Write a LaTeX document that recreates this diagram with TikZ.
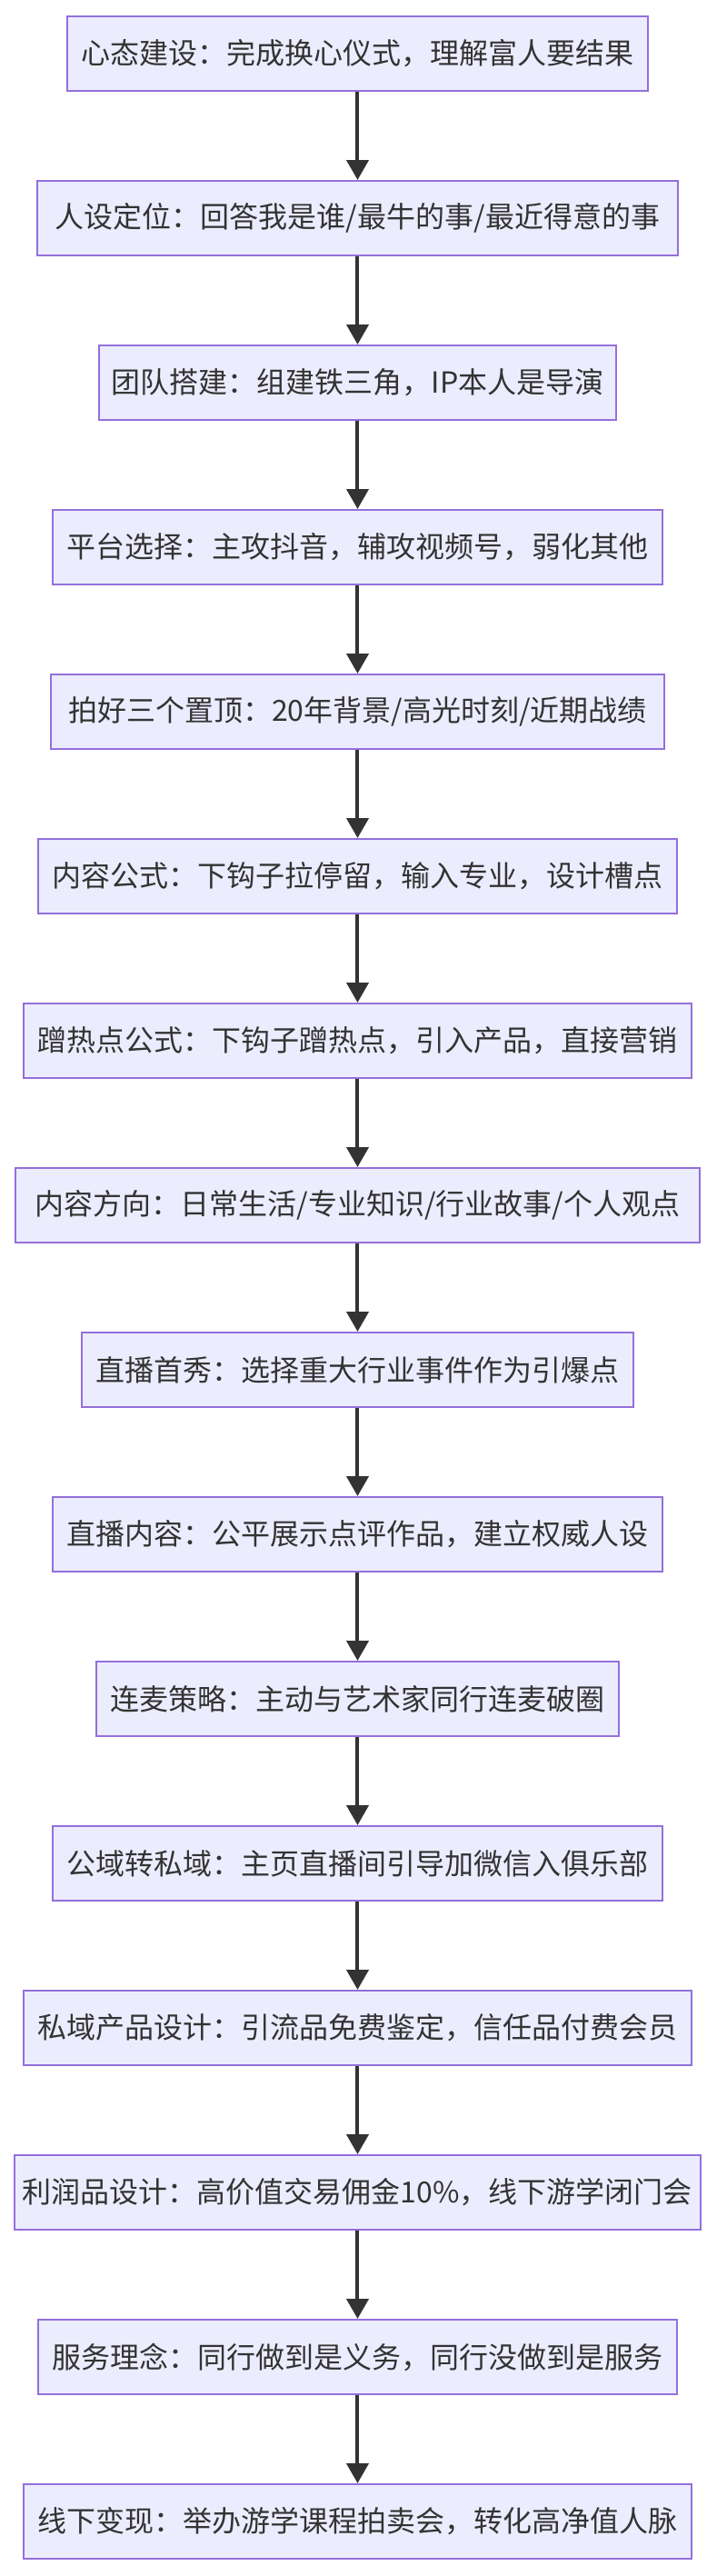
\documentclass[tikz,border=0pt]{standalone}
\usepackage{xcolor}
\usepackage{fontspec}
\setmainfont{Noto Sans CJK SC}
\usepackage{tikz}
\usetikzlibrary{
  positioning,
  arrows.meta
}
\definecolor{stepbg}{HTML}{ECECFF}
\definecolor{stepborder}{HTML}{9370DB}
\definecolor{steptext}{HTML}{333333}
\definecolor{arrowcolor}{HTML}{333333}
\tikzset{
  stepbox/.style={
    draw=stepborder, fill=stepbg, line width=1pt,
    minimum height=41pt, inner xsep=2pt,
    font=\fontsize{16}{19}\selectfont, text=steptext, align=center
  },
  flowarrow/.style={
    -{Triangle[length=11pt, width=12pt]}, line width=2pt, draw=arrowcolor
  }
}

\begin{document}
\begin{tikzpicture}[node distance=48.5pt]
        \path[use as bounding box] (-196.75pt,29.5pt) rectangle (197.25pt,-1387.5pt);
        % onboarding and positioning
        \node[stepbox, minimum width=319.5pt] (mindset) {心态建设：完成换心仪式，理解富人要结果};
        \node[stepbox, minimum width=352.5pt, below=of mindset] (persona) {人设定位：回答我是谁/最牛的事/最近得意的事};
        \node[stepbox, minimum width=284.5pt, below=of persona] (team) {团队搭建：组建铁三角，IP本人是导演};
        \node[stepbox, minimum width=335.5pt, below=of team] (platform) {平台选择：主攻抖音，辅攻视频号，弱化其他};
        % short video content
        \node[stepbox, minimum width=337.5pt, below=of platform] (pinned) {拍好三个置顶：20年背景/高光时刻/近期战绩};
        \node[stepbox, minimum width=351.5pt, below=of pinned] (formula) {内容公式：下钩子拉停留，输入专业，设计槽点};
        \node[stepbox, minimum width=367.5pt, below=of formula] (hotspot) {蹭热点公式：下钩子蹭热点，引入产品，直接营销};
        \node[stepbox, minimum width=376.5pt, below=of hotspot] (direction) {内容方向：日常生活/专业知识/行业故事/个人观点};
        % live streaming
        \node[stepbox, minimum width=303.5pt, below=of direction] (livedebut) {直播首秀：选择重大行业事件作为引爆点};
        \node[stepbox, minimum width=335.5pt, below=of livedebut] (livecontent) {直播内容：公平展示点评作品，建立权威人设};
        \node[stepbox, minimum width=287.5pt, below=of livecontent] (colink) {连麦策略：主动与艺术家同行连麦破圈};
        % private domain and monetization
        \node[stepbox, minimum width=335.5pt, below=of colink] (private) {公域转私域：主页直播间引导加微信入俱乐部};
        \node[stepbox, minimum width=367.5pt, below=of private] (product) {私域产品设计：引流品免费鉴定，信任品付费会员};
        \node[stepbox, minimum width=377.5pt, below=of product] (profit) {利润品设计：高价值交易佣金10\%，线下游学闭门会};
        \node[stepbox, minimum width=351.5pt, below=of profit] (service) {服务理念：同行做到是义务，同行没做到是服务};
        \node[stepbox, minimum width=367.5pt, below=of service] (offline) {线下变现：举办游学课程拍卖会，转化高净值人脉};

        \draw[flowarrow] (mindset) -- (persona);
        \draw[flowarrow] (persona) -- (team);
        \draw[flowarrow] (team) -- (platform);
        \draw[flowarrow] (platform) -- (pinned);
        \draw[flowarrow] (pinned) -- (formula);
        \draw[flowarrow] (formula) -- (hotspot);
        \draw[flowarrow] (hotspot) -- (direction);
        \draw[flowarrow] (direction) -- (livedebut);
        \draw[flowarrow] (livedebut) -- (livecontent);
        \draw[flowarrow] (livecontent) -- (colink);
        \draw[flowarrow] (colink) -- (private);
        \draw[flowarrow] (private) -- (product);
        \draw[flowarrow] (product) -- (profit);
        \draw[flowarrow] (profit) -- (service);
        \draw[flowarrow] (service) -- (offline);
      \end{tikzpicture}
\end{document}
